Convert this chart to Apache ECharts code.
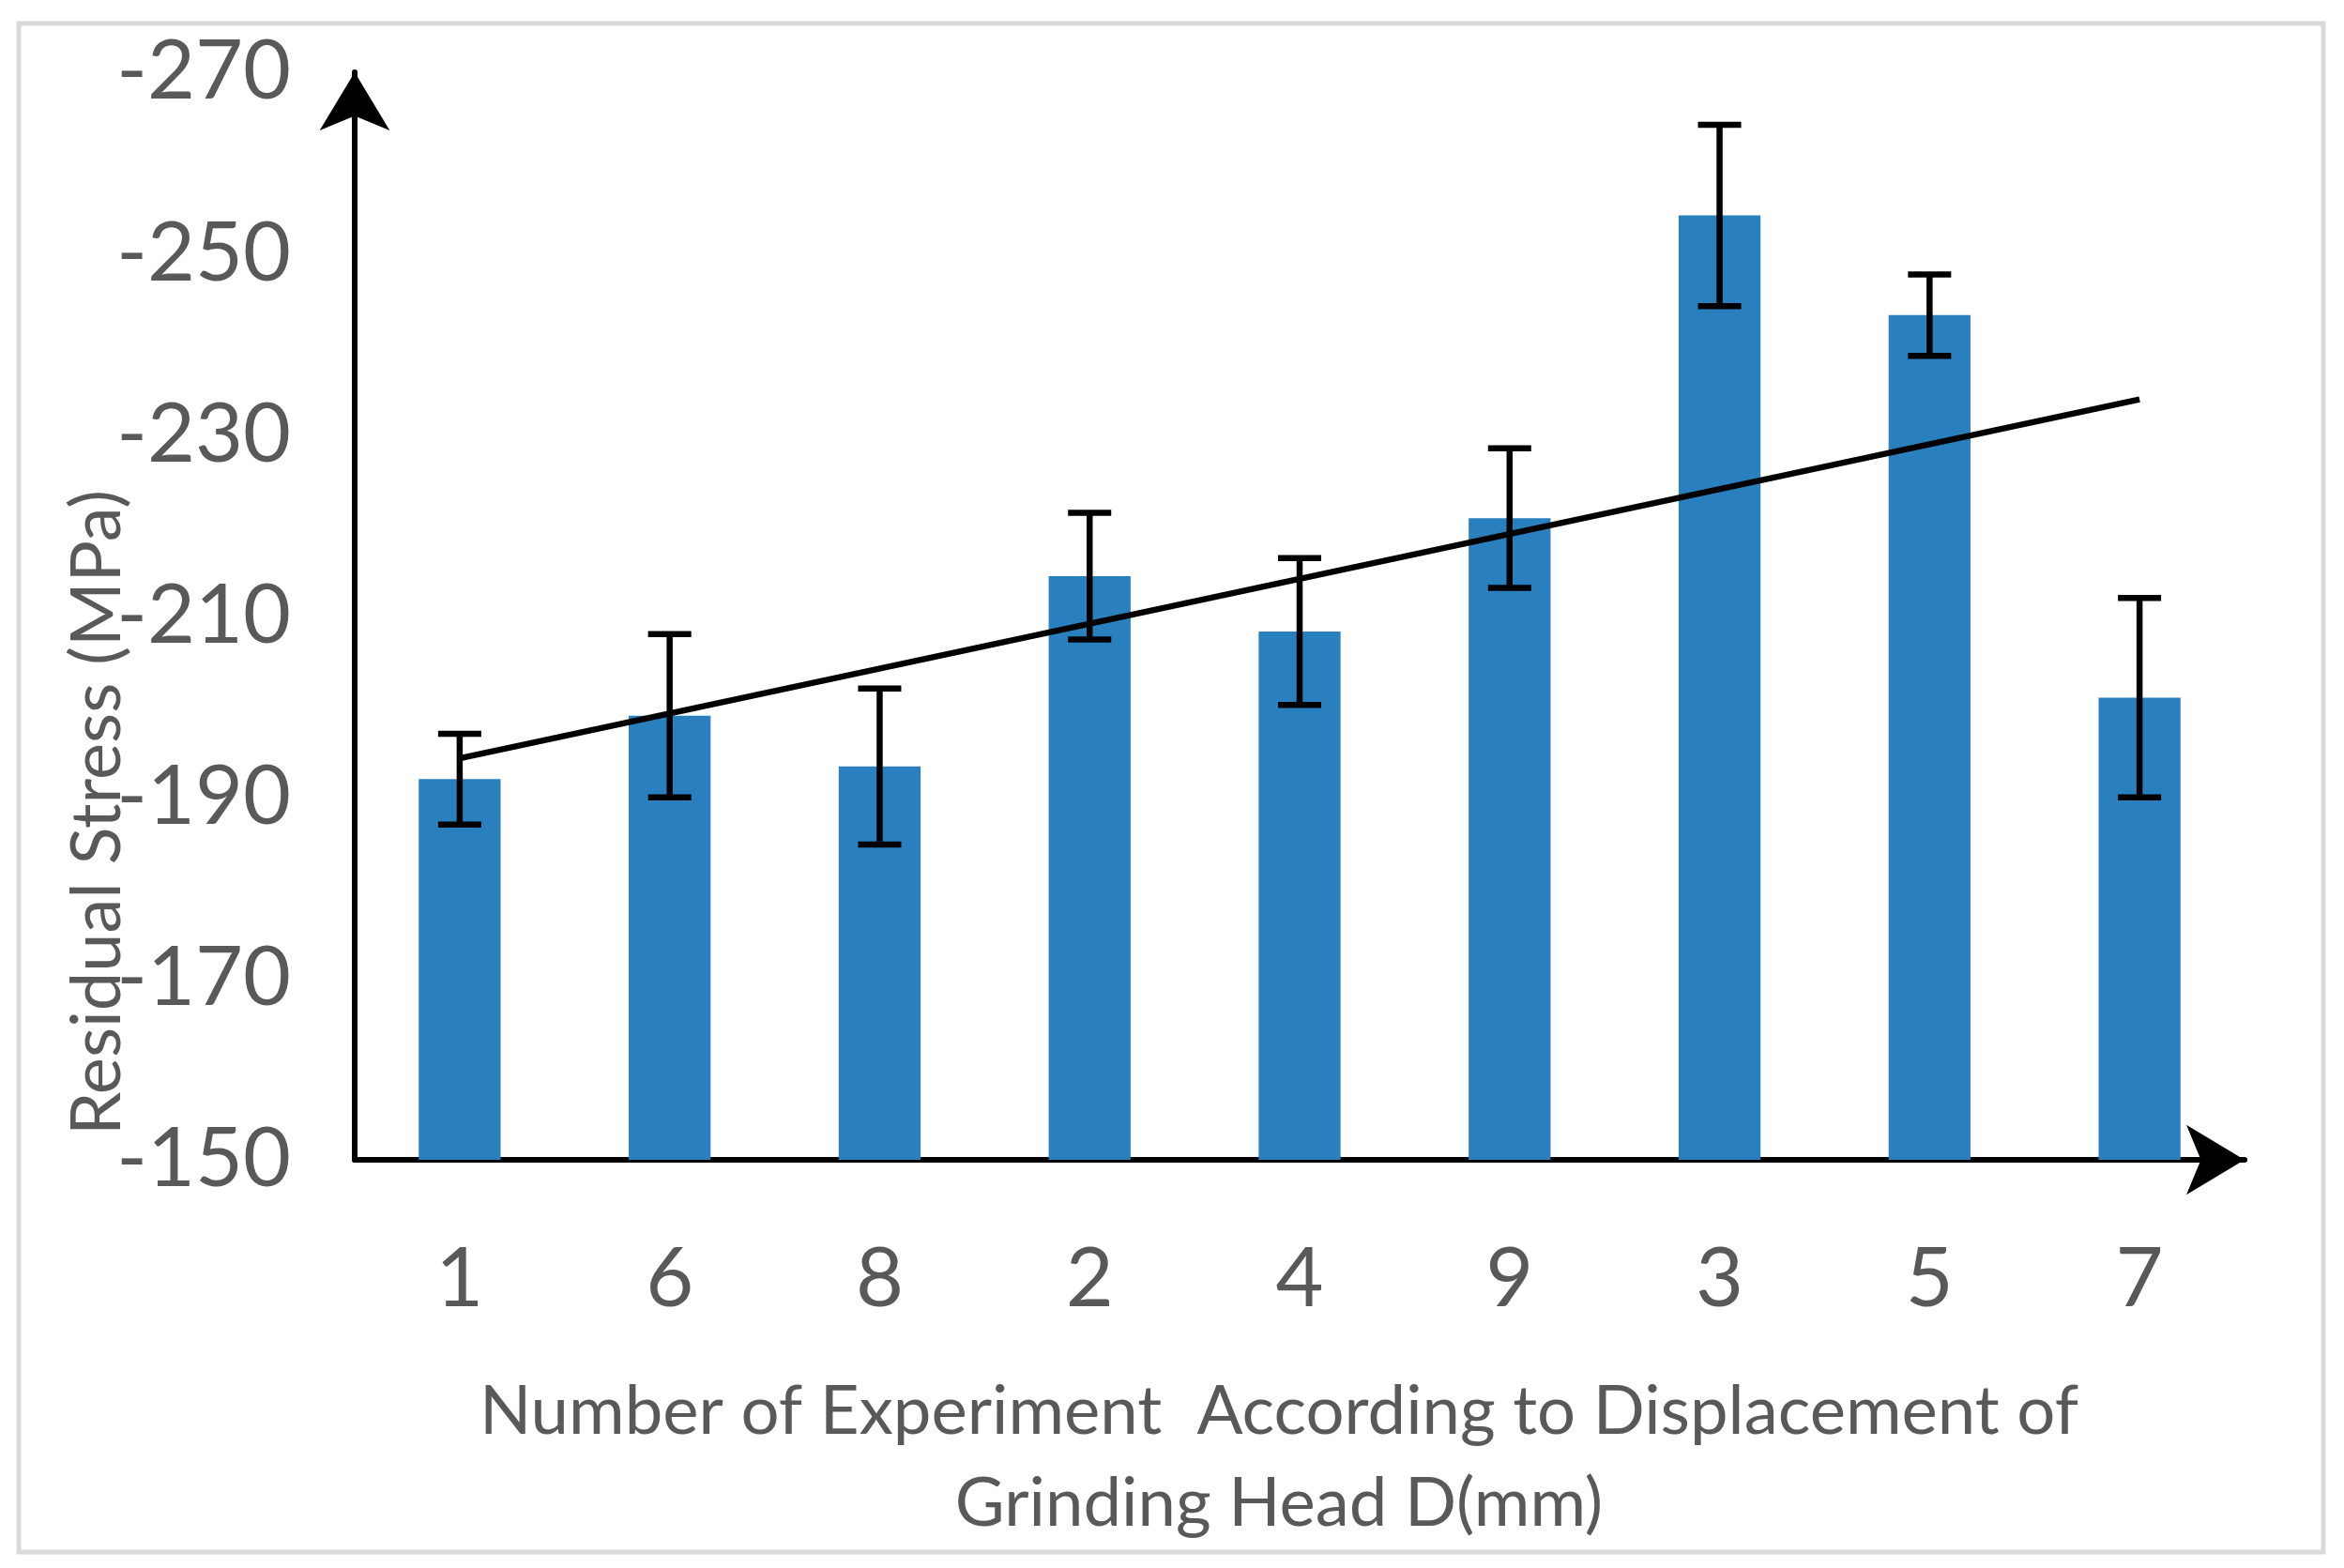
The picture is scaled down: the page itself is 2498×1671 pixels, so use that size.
<!DOCTYPE html>
<html><head><meta charset="utf-8">
<script src="https://cdn.jsdelivr.net/npm/echarts@6/dist/echarts.min.js"></script>
<style>html,body{margin:0;padding:0;background:#fff}#c{width:2498px;height:1671px}</style>
</head><body><div id="c"></div>
<script>
const categories = ['1','6','8','2','4','9','3','5','7'];
const stress = [-192.0,-199.0,-193.4,-214.4,-208.3,-220.8,-254.2,-243.2,-201.0];
const errors = [5.0,9.0,8.6,7.0,8.1,7.7,10.0,4.5,11.0];
const trendEnds = [-194.3,-233.9];
const yTickLabels = [-270,-250,-230,-210,-190,-170,-150];
const yTitle = 'Residual Stress (MPa)';
const xTitleLines = ['Number of Experiment  According to Displacement of','Grinding Head D(mm)'];

const FONT = 'Lato, "Open Sans", sans-serif';
const TXT = '#595959';
const BAR = '#2a80be';
const yMin = yTickLabels[0], yMax = yTickLabels[yTickLabels.length-1];

const chart = echarts.init(document.getElementById('c'), null, {renderer:'canvas'});
const barData = stress.map((v,i)=>[i,v]);
const errData = stress.map((v,i)=>[i, v+errors[i], v-errors[i]]);
const trendData = [[0,trendEnds[0]],[categories.length-1,trendEnds[1]]];

chart.setOption({
  backgroundColor:'#fff',
  animation:false,
  grid:{left:378,right:106,top:77,bottom:435,containLabel:false},
  xAxis:{type:'category',data:categories,boundaryGap:true,
    axisLine:{show:true,lineStyle:{color:'#000',width:6},symbol:['none','arrow'],symbolSize:[56,62],symbolOffset:[0,0]},
    axisTick:{show:false},
    axisLabel:{color:TXT,fontFamily:FONT,fontSize:88,margin:84},
    splitLine:{show:false}},
  yAxis:{type:'value',inverse:true,min:yMin,max:yMax,interval:10,
    axisLine:{show:true,onZero:false,lineStyle:{color:'#000',width:6},symbol:['none','arrow'],symbolSize:[56,62],symbolOffset:[0,0]},
    axisTick:{show:false},
    splitLine:{show:false},
    axisLabel:{color:TXT,fontFamily:FONT,fontSize:88,margin:68,
      formatter:v=>yTickLabels.indexOf(Math.round(v))>=0?String(Math.round(v)):''}},
  graphic:[
    {type:'rect',shape:{x:20,y:25,width:2456,height:1629},style:{fill:'none',stroke:'#d9d9d9',lineWidth:5},silent:true},
    {type:'text',x:104,y:866,rotation:Math.PI/2,style:{text:yTitle,font:'74px '+FONT,fill:TXT,align:'center',verticalAlign:'middle'}},
    {type:'text',x:1363,y:1505,style:{text:xTitleLines[0],font:'72.5px '+FONT,fill:TXT,align:'center',verticalAlign:'middle'}},
    {type:'text',x:1363,y:1603,style:{text:xTitleLines[1],font:'72.5px '+FONT,fill:TXT,align:'center',verticalAlign:'middle'}}
  ],
  series:[
    {type:'custom',data:barData,z:2,renderItem:(params,api)=>{
      const i=api.value(0), v=api.value(1);
      const top=api.coord([i,v]), base=api.coord([i,yMax]);
      const w=api.size([1,0])[0]*0.39;
      return {type:'rect',shape:{x:top[0]-w/2,y:top[1],width:w,height:base[1]-top[1]},style:{fill:BAR}};
    }},
    {type:'custom',data:errData,z:3,renderItem:(params,api)=>{
      const i=api.value(0);
      const a=api.coord([i,api.value(1)]), b=api.coord([i,api.value(2)]);
      const cw=23;
      const st={stroke:'#000',lineWidth:6.5};
      return {type:'group',children:[
        {type:'line',shape:{x1:a[0],y1:a[1],x2:b[0],y2:b[1]},style:st},
        {type:'line',shape:{x1:a[0]-cw,y1:a[1],x2:a[0]+cw,y2:a[1]},style:st},
        {type:'line',shape:{x1:b[0]-cw,y1:b[1],x2:b[0]+cw,y2:b[1]},style:st}
      ]};
    }},
    {type:'line',data:trendData,z:4,symbol:'none',lineStyle:{color:'#000',width:6.5}}
  ]
});
</script></body></html>
